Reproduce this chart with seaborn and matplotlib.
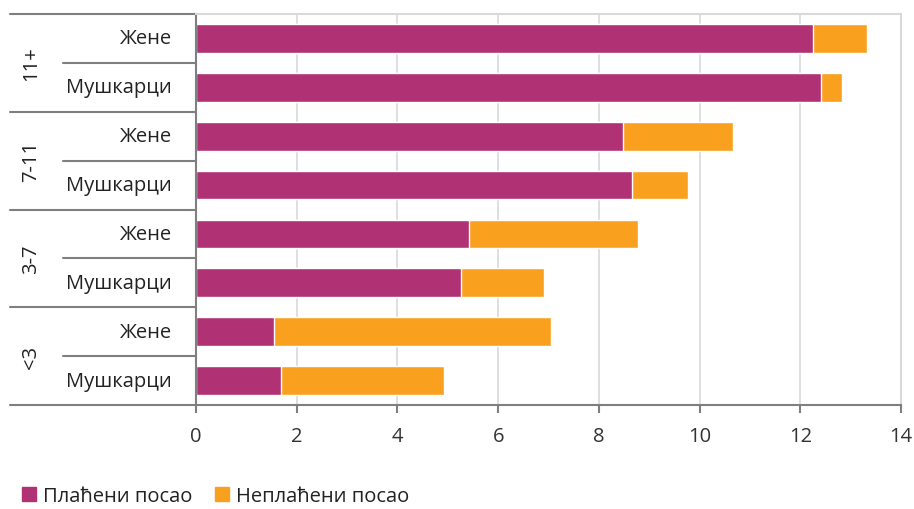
import matplotlib.pyplot as plt
import matplotlib.transforms as mtransforms
import pandas as pd
import seaborn as sns

# Data
groups = ['11+', '7-11', '3-7', '<3']
sexes = ['Жене', 'Мушкарци']
paid = [12.26, 12.42, 8.47, 8.65, 5.43, 5.26, 1.55, 1.69]
unpaid = [1.06, 0.40, 2.20, 1.12, 3.34, 1.66, 5.49, 3.23]
legend_labels = ['Плаћени посао', 'Неплаћени посао']
xticks = [0, 2, 4, 6, 8, 10, 12, 14]

paid_color = '#B03275'
unpaid_color = '#F9A11F'

rows = [g + '|' + s for g in groups for s in sexes]
df = pd.DataFrame({'row': rows, 'paid': paid, 'unpaid': unpaid})
df['total'] = df['paid'] + df['unpaid']

sns.set_style('white')
plt.rcParams['font.family'] = ['Open Sans', 'DejaVu Sans']

fig = plt.figure(figsize=(9.14, 5.10), dpi=100)
ax = fig.add_axes([196 / 914, 1 - 406 / 510, 705 / 914, 391 / 510])

# stacked bars: draw totals first, paid part over them
sns.barplot(data=df, y='row', x='total', order=rows, color=unpaid_color,
            width=0.59, saturation=1, ax=ax, orient='h')
sns.barplot(data=df, y='row', x='paid', order=rows, color=paid_color,
            width=0.59, saturation=1, ax=ax, orient='h')

ax.set_xlim(0, 14)
ax.set_ylim(len(rows) - 0.5, -0.5)
ax.set_xticks(xticks)
ax.set_xticklabels([str(t) for t in xticks], fontsize=14.5, color='#333333')
ax.set_xlabel('')
ax.set_ylabel('')
ax.set_yticks([])
ax.xaxis.grid(True, color='#D9D9D9', linewidth=1.2)
ax.set_axisbelow(True)
ax.tick_params(axis='x', length=6, width=1.5, color='#7F7F7F', pad=9, bottom=True)

for side in ['top', 'right']:
    ax.spines[side].set_color('#D9D9D9')
    ax.spines[side].set_linewidth(1.5)
for side in ['left', 'bottom']:
    ax.spines[side].set_color('#7F7F7F')
    ax.spines[side].set_linewidth(1.5)

# multi-level category axis on the left
trans = mtransforms.blended_transform_factory(fig.transFigure, ax.transData)
x_outer = 10 / 914
x_inner = 63 / 914
x_axis = 196 / 914
for i in range(len(groups) + 1):
    y = -0.5 + 2 * i
    ax.plot([x_outer, x_axis], [y, y], transform=trans, color='#7F7F7F',
            linewidth=1.5, clip_on=False)
for i, g in enumerate(groups):
    y = 0.5 + 2 * i
    ax.plot([x_inner, x_axis], [y, y], transform=trans, color='#7F7F7F',
            linewidth=1.5, clip_on=False)
    ax.text(31 / 914, y, g, transform=trans, rotation=90, ha='center',
            va='center', fontsize=14.5, color='#222222')
for j, r in enumerate(rows):
    ax.text(172 / 914, j, r.split('|')[1], transform=trans, ha='right',
            va='center', fontsize=14.5, color='#222222')

handles = [plt.Rectangle((0, 0), 1, 1, color=paid_color),
           plt.Rectangle((0, 0), 1, 1, color=unpaid_color)]
fig.legend(handles, legend_labels, loc='center left',
           bbox_to_anchor=(22 / 914, 1 - 497 / 510), ncol=2, frameon=False,
           fontsize=14.5, handlelength=0.7, handleheight=0.7, borderpad=0,
           borderaxespad=0, handletextpad=0.35, columnspacing=1.1,
           labelcolor='#222222')

fig.savefig('out.png', dpi=100)
